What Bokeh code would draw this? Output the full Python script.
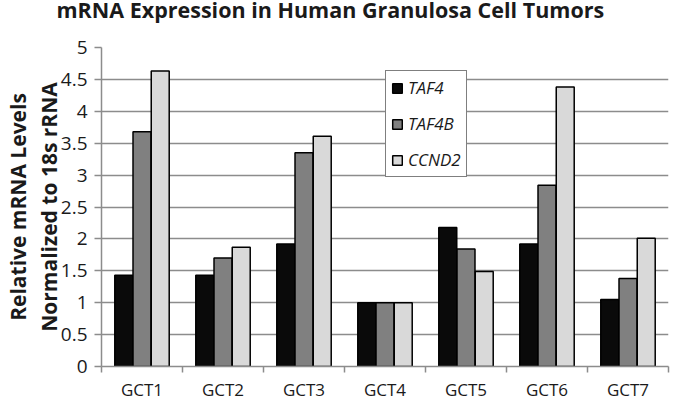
from bokeh.plotting import figure
from bokeh.models import FixedTicker, Legend, LegendItem, Label, Range1d
from bokeh.embed import file_html
from bokeh.resources import INLINE

categories = ["GCT1", "GCT2", "GCT3", "GCT4", "GCT5", "GCT6", "GCT7"]
taf4 = [1.43, 1.43, 1.92, 1.00, 2.18, 1.92, 1.05]
taf4b = [3.68, 1.70, 3.35, 1.00, 1.84, 2.84, 1.38]
ccnd2 = [4.63, 1.87, 3.61, 1.00, 1.49, 4.38, 2.01]
series_names = ["TAF4", "TAF4B", "CCND2"]
y_ticks = [0, 0.5, 1, 1.5, 2, 2.5, 3, 3.5, 4, 4.5, 5]
y_tick_labels = ["0", "0.5", "1", "1.5", "2", "2.5", "3", "3.5", "4", "4.5", "5"]
title_text = "mRNA Expression in Human Granulosa Cell Tumors"

FONT = "Open Sans"
colors = ["#0a0a0a", "#808080", "#d9d9d9"]
offsets = [-0.225, 0.0, 0.225]
bar_w = 0.222
GRID = "#8c8c8c"

p = figure(width=670, height=403, output_backend="svg", toolbar_location=None,
           x_range=Range1d(0, len(categories)), y_range=Range1d(0, 5),
           min_border_left=99, min_border_right=2, min_border_top=47, min_border_bottom=0)
p.outline_line_color = None
p.background_fill_color = "white"
p.border_fill_color = "white"

centers = [i + 0.5 for i in range(len(categories))]
renderers = []
for vals, off, col in zip([taf4, taf4b, ccnd2], offsets, colors):
    r = p.vbar(x=[c + off for c in centers], top=vals, bottom=0, width=bar_w,
               fill_color=col, line_color="#000000", line_width=1.5)
    renderers.append(r)

# x axis: labels at centers, tick marks at category boundaries
p.xaxis.ticker = FixedTicker(ticks=centers, minor_ticks=list(range(len(categories) + 1)))
p.xaxis.major_label_overrides = {c: name for c, name in zip(centers, categories)}
p.xaxis.major_tick_line_color = None
p.xaxis.major_tick_in = 0
p.xaxis.major_tick_out = 0
p.xaxis.minor_tick_in = 0
p.xaxis.minor_tick_out = 6
p.xaxis.minor_tick_line_color = GRID
p.xaxis.minor_tick_line_width = 1.5
p.xaxis.axis_line_color = GRID
p.xaxis.axis_line_width = 1.5
p.xaxis.major_label_text_font = FONT
p.xaxis.major_label_text_font_size = "17px"
p.xaxis.major_label_text_line_height = 0.75
p.xaxis.major_label_text_color = "#1a1a1a"
p.xaxis.major_label_standoff = 5
p.xgrid.grid_line_color = None

p.yaxis.ticker = FixedTicker(ticks=y_ticks)
p.yaxis.major_label_overrides = {t: s for t, s in zip(y_ticks, y_tick_labels)}
p.yaxis.major_tick_in = 0
p.yaxis.major_tick_out = 7
p.yaxis.major_tick_line_color = GRID
p.yaxis.major_tick_line_width = 1.5
p.yaxis.minor_tick_line_color = None
p.yaxis.axis_line_color = GRID
p.yaxis.axis_line_width = 1.5
p.yaxis.major_label_text_font = FONT
p.yaxis.major_label_text_font_size = "19px"
p.yaxis.major_label_text_color = "#1a1a1a"
p.yaxis.major_label_standoff = 7
p.yaxis.axis_label = "Relative mRNA Levels\nNormalized to 18s rRNA"
p.yaxis.axis_label_text_font = FONT
p.yaxis.axis_label_text_font_style = "bold"
p.yaxis.axis_label_text_font_size = "21px"
p.yaxis.axis_label_text_line_height = 1.1
p.yaxis.axis_label_text_color = "#1a1a1a"
p.yaxis.axis_label_standoff = -5
p.ygrid.grid_line_color = GRID
p.ygrid.grid_line_width = 1.5

title = Label(x=-45, y=38, x_units="screen", y_units="screen", text=title_text,
              text_font=FONT, text_font_style="bold", text_font_size="21.5px",
              text_color="#1a1a1a", text_align="left", text_baseline="middle")
p.add_layout(title, "above")

legend = Legend(items=[LegendItem(label=n, renderers=[r]) for n, r in zip(series_names, renderers)],
                location=(284, 189), label_text_font=FONT, label_text_font_style="italic",
                label_text_font_size="17px", label_text_color="#1a1a1a",
                glyph_width=12, glyph_height=12, label_height=20, spacing=13, padding=5,
                border_line_color="#000000", border_line_width=1.5, background_fill_alpha=1.0,
                label_standoff=5, margin=0)
p.add_layout(legend, "center")

open("out.html", "w").write(file_html(p, INLINE))
